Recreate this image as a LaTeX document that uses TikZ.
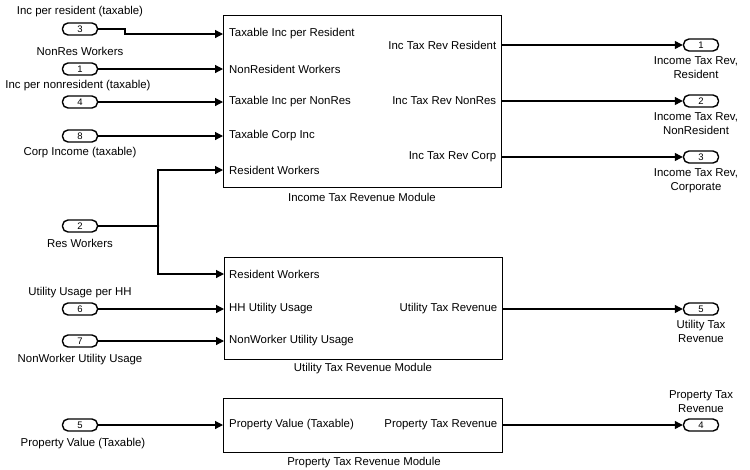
\documentclass[tikz,border=0pt]{standalone}
\usepackage{fontspec}
\setmainfont{Liberation Sans}
\usetikzlibrary{arrows.meta}
\begin{document}
\begin{tikzpicture}[x=1pt,y=-1pt,
  port/.style={draw, rounded corners=5.5pt, minimum width=35pt, minimum height=12pt,
    inner sep=0pt, line width=1.4pt, font=\fontsize{9.5}{9.5}\selectfont},
  lbl/.style={font=\fontsize{11.4}{14}\selectfont, inner sep=0pt, align=center},
  module/.style={draw, line width=1.4pt, inner sep=0pt, anchor=north west},
  sig/.style={line width=1.2pt, -{Triangle[length=8pt,width=8pt]}},
  wire/.style={line width=1.2pt},
]
\useasboundingbox (0,0) rectangle (750,469);

% ---- module blocks ----
\node[module, minimum width=278pt, minimum height=172pt] (inc) at (223,15) {};
\node[module, minimum width=278pt, minimum height=102pt] (util) at (224,257) {};
\node[module, minimum width=279pt, minimum height=54pt] (prop) at (223,398) {};

\node[lbl] (incname) at (362,197) {Income Tax Revenue Module};
\node[lbl] (utilname) at (363,369) {Utility Tax Revenue Module};
\node[lbl] (propname) at (364,463) {Property Tax Revenue Module};

% ---- block ports ----
\coordinate (incI1) at (inc.west |- 0,34);
\coordinate (incI2) at (inc.west |- 0,69);
\coordinate (incI3) at (inc.west |- 0,102);
\coordinate (incI4) at (inc.west |- 0,136);
\coordinate (incI5) at (inc.west |- 0,170);
\coordinate (incO1) at (inc.east |- 0,45);
\coordinate (incO2) at (inc.east |- 0,101);
\coordinate (incO3) at (inc.east |- 0,157);

\coordinate (utilI1) at (util.west |- 0,274);
\coordinate (utilI2) at (util.west |- 0,309);
\coordinate (utilI3) at (util.west |- 0,341);
\coordinate (utilO1) at (util.east |- 0,309);

\coordinate (propI1) at (prop.west |- 0,425);
\coordinate (propO1) at (prop.east |- 0,425);

% ---- port labels inside blocks ----
\node[lbl, anchor=west, xshift=6pt] (tI1) at (incI1) {Taxable Inc per Resident};
\node[lbl, anchor=west, xshift=6pt] (tI2) at (incI2) {NonResident Workers};
\node[lbl, anchor=west, xshift=6pt] (tI3) at (incI3) {Taxable Inc per NonRes};
\node[lbl, anchor=west, xshift=6pt] (tI4) at (incI4) {Taxable Corp Inc};
\node[lbl, anchor=west, xshift=6pt] (tI5) at (incI5) {Resident Workers};
\node[lbl, anchor=east, xshift=-6pt] (tO1) at (incO1) {Inc Tax Rev Resident};
\node[lbl, anchor=east, xshift=-6pt] (tO2) at (incO2) {Inc Tax Rev NonRes};
\node[lbl, anchor=east, xshift=-6pt] (tO3) at (incO3) {Inc Tax Rev Corp};

\node[lbl, anchor=west, xshift=5pt] (uI1) at (utilI1) {Resident Workers};
\node[lbl, anchor=west, xshift=5pt] (uI2) at (utilI2) {HH Utility Usage};
\node[lbl, anchor=west, xshift=5pt] (uI3) at (utilI3) {NonWorker Utility Usage};
\node[lbl, anchor=east, xshift=-6pt] (uO1) at (utilO1) {Utility Tax Revenue};

\node[lbl, anchor=west, xshift=6pt] (pI1) at (propI1) {Property Value (Taxable)};
\node[lbl, anchor=east, xshift=-6pt] (pO1) at (propO1) {Property Tax Revenue};

% ---- inports ----
\node[port] (in3) at (80,29) {3};
\node[port] (in1) at (80,69) {1};
\node[port] (in4) at (80,102) {4};
\node[port] (in8) at (80,136) {8};
\node[port] (in2) at (80,226) {2};
\node[port] (in6) at (80,309) {6};
\node[port] (in7) at (80,341) {7};
\node[port] (in5) at (80,425) {5};

\node[lbl] at (80,12) {Inc per resident (taxable)};
\node[lbl] at (80,51) {NonRes Workers};
\node[lbl] at (78,86) {Inc per nonresident (taxable)};
\node[lbl] at (80,153) {Corp Income (taxable)};
\node[lbl] at (80,243) {Res Workers};
\node[lbl] at (80,293) {Utility Usage per HH};
\node[lbl] at (80,360) {NonWorker Utility Usage};
\node[lbl] at (83,444) {Property Value (Taxable)};

% ---- outports ----
\node[port] (out1) at (701,45) {1};
\node[port] (out2) at (701,101) {2};
\node[port] (out3) at (701,157) {3};
\node[port] (out5) at (701,309) {5};
\node[port] (out4) at (701,425) {4};

\node[lbl, anchor=north] at (696,56) {Income Tax Rev,\\Resident};
\node[lbl, anchor=north] at (696,112) {Income Tax Rev,\\NonResident};
\node[lbl, anchor=north] at (696,168) {Income Tax Rev,\\Corporate};
\node[lbl, anchor=north] at (701,320) {Utility Tax\\Revenue};
\node[lbl, anchor=south] at (701,413) {Property Tax\\Revenue};

% ---- signal lines ----
\draw[sig] (in3.east) -- (125,29) |- (incI1);
\draw[sig] (in1.east) -- (incI2);
\draw[sig] (in4.east) -- (incI3);
\draw[sig] (in8.east) -- (incI4);

\coordinate (split) at (158,226);
\draw[wire] (in2.east) -- (split);
\draw[sig] (split) |- (incI5);
\draw[sig] (split) |- (utilI1);
\fill (split) circle (1.3pt);

\draw[sig] (in6.east) -- (utilI2);
\draw[sig] (in7.east) -- (utilI3);
\draw[sig] (in5.east) -- (propI1);

\draw[sig] (incO1) -- (out1.west);
\draw[sig] (incO2) -- (out2.west);
\draw[sig] (incO3) -- (out3.west);
\draw[sig] (utilO1) -- (out5.west);
\draw[sig] (propO1) -- (out4.west);
\end{tikzpicture}
\end{document}
